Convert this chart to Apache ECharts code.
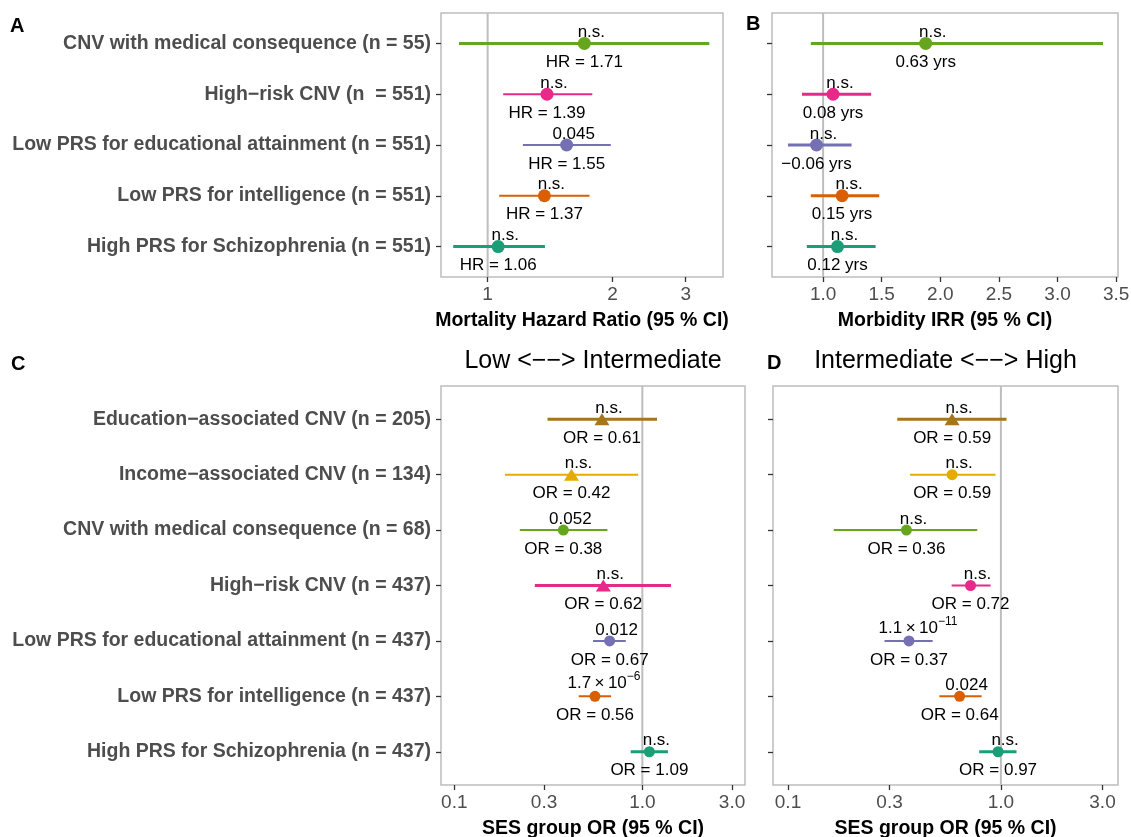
<!DOCTYPE html>
<html><head><meta charset="utf-8">
<script src="https://cdn.jsdelivr.net/npm/echarts@6/dist/echarts.min.js"></script>
<style>html,body{margin:0;padding:0;background:#fff}#c{width:1131px;height:837px}</style>
</head><body><div id="c"></div><script>
// ---------- DATA ----------
const catsAB = ["CNV with medical consequence (n = 55)", "High\u2212risk CNV (n  = 551)", "Low PRS for educational attainment (n = 551)", "Low PRS for intelligence (n = 551)", "High PRS for Schizophrenia (n = 551)"];
const hrEst = [1.71, 1.39, 1.55, 1.37, 1.06];
const hrLo = [0.853, 1.09, 1.216, 1.066, 0.826];
const hrHi = [3.42, 1.787, 1.98, 1.76, 1.374];
const hrP = ["n.s.", "n.s.", "0.045", "n.s.", "n.s."];
const hrLab = ["HR = 1.71", "HR = 1.39", "HR = 1.55", "HR = 1.37", "HR = 1.06"];
const hrTicks = [1, 2, 3];
const hrTickLabels = ["1", "2", "3"];

const irrEst = [1.875, 1.085, 0.944, 1.162, 1.123];
const irrLo = [0.895, 0.82, 0.70, 0.895, 0.861];
const irrHi = [3.388, 1.41, 1.243, 1.479, 1.448];
const irrP = ["n.s.", "n.s.", "n.s.", "n.s.", "n.s."];
const irrLab = ["0.63 yrs", "0.08 yrs", "\u22120.06 yrs", "0.15 yrs", "0.12 yrs"];
const irrTicks = [1.0, 1.5, 2.0, 2.5, 3.0, 3.5];
const irrTickLabels = ["1.0", "1.5", "2.0", "2.5", "3.0", "3.5"];

const catsCD = ["Education\u2212associated CNV (n = 205)", "Income\u2212associated CNV (n = 134)", "CNV with medical consequence (n = 68)", "High\u2212risk CNV (n = 437)", "Low PRS for educational attainment (n = 437)", "Low PRS for intelligence (n = 437)", "High PRS for Schizophrenia (n = 437)"];
const orLowEst = [0.61, 0.42, 0.38, 0.62, 0.67, 0.56, 1.09];
const orLowLo = [0.313, 0.186, 0.223, 0.268, 0.547, 0.459, 0.867];
const orLowHi = [1.197, 0.949, 0.652, 1.42, 0.816, 0.682, 1.368];
const orLowP = ["n.s.", "n.s.", "0.052", "n.s.", "0.012", "1.7^\u22126", "n.s."];
const orLowLab = ["OR = 0.61", "OR = 0.42", "OR = 0.38", "OR = 0.62", "OR = 0.67", "OR = 0.56", "OR = 1.09"];
const orLowShape = ["triangle", "triangle", "circle", "triangle", "circle", "circle", "circle"];

const orHighEst = [0.59, 0.59, 0.36, 0.72, 0.37, 0.64, 0.97];
const orHighLo = [0.326, 0.3745, 0.164, 0.587, 0.284, 0.514, 0.791];
const orHighHi = [1.063, 0.944, 0.774, 0.895, 0.478, 0.812, 1.184];
const orHighP = ["n.s.", "n.s.", "n.s.", "n.s.", "1.1^\u221211", "0.024", "n.s."];
const orHighLab = ["OR = 0.59", "OR = 0.59", "OR = 0.36", "OR = 0.72", "OR = 0.37", "OR = 0.64", "OR = 0.97"];
const orHighShape = ["triangle", "circle", "circle", "circle", "circle", "circle", "circle"];

const orTicks = [0.1, 0.3, 1, 3];
const orTickLabels = ["0.1", "0.3", "1.0", "3.0"];

// ---------- STYLE ----------
const FONT = '"Liberation Sans", Arial, Helvetica, sans-serif';
const colAB = ["#66A61E", "#E7298A", "#7570B3", "#D95F02", "#1B9E77"];
const colCD = ["#A6761D", "#E6AB02", "#66A61E", "#E7298A", "#7570B3", "#D95F02", "#1B9E77"];

const panels = [
  { grid: { left: 441, top: 13, width: 282, height: 264 }, log: true, min: 0.772, max: 3.69, ref: 1,
    ticks: hrTicks, tickLabels: hrTickLabels, cats: catsAB, showCats: true, est: hrEst, lo: hrLo, hi: hrHi,
    p: hrP, lab: hrLab, colors: colAB, shapes: null, lw: [3, 2, 2, 2, 3], size: 13,
    name: "Mortality Hazard Ratio (95 % CI)" },
  { grid: { left: 772, top: 13, width: 346, height: 264 }, log: false, min: 0.564, max: 3.516, ref: 1,
    ticks: irrTicks, tickLabels: irrTickLabels, cats: catsAB, showCats: false, est: irrEst, lo: irrLo, hi: irrHi,
    p: irrP, lab: irrLab, colors: colAB, shapes: null, lw: [3, 3, 3, 3, 3], size: 13,
    name: "Morbidity IRR (95 % CI)" },
  { grid: { left: 441, top: 386, width: 304, height: 399 }, log: true, min: 0.08495, max: 3.516, ref: 1,
    ticks: orTicks, tickLabels: orTickLabels, cats: catsCD, showCats: true, est: orLowEst, lo: orLowLo, hi: orLowHi,
    p: orLowP, lab: orLowLab, colors: colCD, shapes: orLowShape, lw: [3, 2, 2, 3, 2, 2, 3], size: 11,
    name: "SES group OR (95 % CI)" },
  { grid: { left: 773, top: 386, width: 345, height: 399 }, log: true, min: 0.08503, max: 3.548, ref: 1,
    ticks: orTicks, tickLabels: orTickLabels, cats: catsCD, showCats: false, est: orHighEst, lo: orHighLo, hi: orHighHi,
    p: orHighP, lab: orHighLab, colors: colCD, shapes: orHighShape, lw: [3, 2, 2, 2, 2, 2, 3], size: 11,
    name: "SES group OR (95 % CI)" }
];

function pFmt(s) {
  if (s.indexOf('^') >= 0) {
    const parts = s.split('^');
    return '{m|' + parts[0] + '\u2009\u00d7\u200910}{e|' + parts[1] + '}';
  }
  return '{m|' + s + '}';
}

const grids = [], xAxes = [], yAxes = [], series = [];
panels.forEach((P, i) => {
  const tx = v => P.log ? Math.log10(v) : v;
  const n = P.cats.length;
  const yMin = 0.4, yMax = n + 0.6;
  const tickT = P.ticks.map(tx);
  const rows = P.cats.map((c, k) => k + 1);
  grids.push(Object.assign({ show: true, borderColor: '#BDBDBD', borderWidth: 1.5, backgroundColor: 'transparent', outerBoundsMode: 'none', containLabel: false }, P.grid));
  xAxes.push({
    type: 'value', gridIndex: i, min: tx(P.min), max: tx(P.max),
    axisLine: { show: false, onZero: false }, splitLine: { show: false },
    axisTick: { show: true, customValues: tickT, length: 5, lineStyle: { color: '#333333', width: 1.3 } },
    axisLabel: { show: true, customValues: tickT, margin: 8, color: '#4D4D4D', fontSize: 19, fontFamily: FONT,
      formatter: v => { let b = 0; tickT.forEach((t, k) => { if (Math.abs(t - v) < Math.abs(tickT[b] - v)) b = k; }); return P.tickLabels[b]; } },
    name: P.name, nameLocation: 'middle', nameGap: 34,
    nameTextStyle: { fontWeight: 'bold', fontSize: 19.5, color: '#000', fontFamily: FONT }
  });
  yAxes.push({
    type: 'value', gridIndex: i, inverse: true, min: yMin, max: yMax,
    axisLine: { show: false, onZero: false }, splitLine: { show: false },
    axisTick: { show: true, customValues: rows, length: 5, lineStyle: { color: '#333333', width: 1.3 } },
    axisLabel: { show: P.showCats, customValues: rows, margin: 10, color: '#4D4D4D', fontSize: 19.5, fontWeight: 'bold', fontFamily: FONT,
      formatter: v => P.cats[Math.round(v) - 1] || '' }
  });
  // reference line
  series.push({
    type: 'custom', xAxisIndex: i, yAxisIndex: i, z: 1, silent: true,
    data: [[tx(P.ref), yMin, yMax]], encode: { x: 0, y: [1, 2] },
    renderItem: (params, api) => {
      const a = api.coord([api.value(0), api.value(1)]);
      const b = api.coord([api.value(0), api.value(2)]);
      return { type: 'line', shape: { x1: a[0], y1: a[1], x2: b[0], y2: b[1] }, style: { stroke: '#BEBEBE', lineWidth: 2 } };
    }
  });
  // error bars
  series.push({
    type: 'custom', xAxisIndex: i, yAxisIndex: i, z: 2, silent: true,
    data: P.est.map((e, k) => [tx(P.lo[k]), tx(P.hi[k]), k + 1]), encode: { x: [0, 1], y: 2 },
    renderItem: (params, api) => {
      const a = api.coord([api.value(0), api.value(2)]);
      const b = api.coord([api.value(1), api.value(2)]);
      return { type: 'line', shape: { x1: a[0], y1: a[1], x2: b[0], y2: b[1] },
        style: { stroke: P.colors[params.dataIndex], lineWidth: P.lw[params.dataIndex] } };
    }
  });
  // points with p-value labels
  series.push({
    type: 'scatter', xAxisIndex: i, yAxisIndex: i, z: 3, silent: true,
    data: P.est.map((e, k) => {
      const sh = P.shapes ? P.shapes[k] : 'circle';
      const exp = P.p[k].indexOf('^') >= 0;
      return { value: [tx(e), k + 1], symbol: sh,
        symbolSize: sh === 'triangle' ? [15, 12] : P.size,
        itemStyle: { color: P.colors[k], opacity: 1 },
        label: { offset: exp ? [9, -15] : [7, -11] } };
    }),
    label: { show: true, position: 'inside', color: '#000', textBorderWidth: 0, textBorderColor: 'transparent',
      fontFamily: FONT, fontSize: 17,
      formatter: params => pFmt(P.p[params.dataIndex]),
      rich: {
        m: { fontSize: 17, color: '#000', fontFamily: FONT, verticalAlign: 'bottom' },
        e: { fontSize: 12, color: '#000', fontFamily: FONT, verticalAlign: 'top', padding: [0, 0, 9, 0] }
      } }
  });
  // estimate labels below
  series.push({
    type: 'scatter', xAxisIndex: i, yAxisIndex: i, z: 4, silent: true,
    data: P.est.map((e, k) => [tx(e), k + 1]),
    symbol: 'circle', symbolSize: 0, itemStyle: { color: '#000' },
    label: { show: true, position: 'inside', offset: [0, 19], color: '#000', opacity: 1, textBorderWidth: 0, textBorderColor: 'transparent',
      fontFamily: FONT, fontSize: 17, formatter: params => P.lab[params.dataIndex] }
  });
});

const letter = (t, x, y) => ({ type: 'text', x: x, y: y, silent: true,
  style: { text: t, fill: '#000', font: 'bold 20px ' + FONT, textAlign: 'left', textVerticalAlign: 'middle' } });
const heading = (t, x, y) => ({ type: 'text', x: x, y: y, silent: true,
  style: { text: t, fill: '#000', font: '25px ' + FONT, textAlign: 'center', textVerticalAlign: 'middle' } });

const chart = echarts.init(document.getElementById('c'), null, { renderer: 'canvas' });
chart.setOption({
  animation: false,
  backgroundColor: '#fff',
  textStyle: { fontFamily: FONT },
  grid: grids, xAxis: xAxes, yAxis: yAxes, series: series,
  graphic: [
    letter('A', 10, 26), letter('B', 746, 24), letter('C', 11, 364), letter('D', 767, 363),
    heading('Low <\u2212\u2212> Intermediate', 593, 361),
    heading('Intermediate <\u2212\u2212> High', 945.5, 361)
  ]
});
</script></body></html>
